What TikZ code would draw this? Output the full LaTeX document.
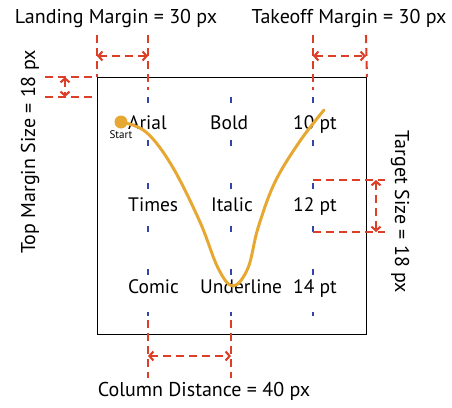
\documentclass[tikz,border=0pt]{standalone}
\usepackage{fontspec}
\setmainfont{PT Sans}
\usetikzlibrary{arrows.meta}
\definecolor{redd}{RGB}{220,62,40}
\definecolor{bluedash}{RGB}{50,70,170}
\definecolor{curvecol}{RGB}{230,168,50}
\begin{document}
\begin{tikzpicture}[x=1pt,y=-1pt,
 measure/.style={draw=redd,line width=2.1pt,dash pattern=on 8pt off 5pt},
 dimarrow/.style={measure,{Straight Barb[length=4pt,width=9pt]}-{Straight Barb[length=4pt,width=9pt]}},
 guide/.style={draw=bluedash,line width=1.1pt,dash pattern=on 6pt off 37pt},
 lbl/.style={font=\fontsize{19.5}{22}\selectfont,inner sep=0pt,anchor=base west},
 title/.style={font=\fontsize{20}{22}\selectfont,inner sep=0pt},
 gesture/.style={draw=curvecol,line width=3pt,line cap=round}]
\useasboundingbox (0,0) rectangle (452,407);
% frame
\node (box) [draw,line width=0.9pt,minimum width=269pt,minimum height=257pt,anchor=north west,inner sep=0pt] at (97,77) {};
% column guides
\foreach \n/\x in {a/148,b/231,c/313}{
  \coordinate (g\n top) at (\x,97);
  \coordinate (g\n bot) at (\x,316);
  \draw[guide] (g\n top) -- (g\n bot);
}
% labels inside
\node[lbl] (arial) at (128,129) {Arial};
\node[lbl] (bold) at (210,129) {Bold};
\node[lbl] (ten) at (293,129) {10 pt};
\node[lbl] (times) at (128,211) {Times};
\node[lbl] (italic) at (211,211) {Italic};
\node[lbl] (twelve) at (293,211) {12 pt};
\node[lbl] (comic) at (128,293) {Comic};
\node[lbl] (under) at (200,293) {Underline};
\node[lbl] (fourteen) at (293,293) {14 pt};
% gesture
\node (startdot) [circle,fill=curvecol,minimum size=13pt,inner sep=0pt] at (121,122) {};
\node[font=\fontsize{11}{12}\selectfont,inner sep=0pt] (startlbl) at (121,135) {Start};
\coordinate (curveend) at (324,110);
\draw[gesture] plot[smooth,tension=0.6] coordinates {(startdot.center) (146,132) (172,166) (200,222) (218,268) (233,286) (248,268) (258,228) (275,182) (300,141) (curveend)};
% landing margin
\coordinate (lmL) at (97,35);
\coordinate (lmR) at (148,35);
\coordinate (lmRb) at (148,90);
\draw[measure] (lmL) -- (box.north west);
\draw[measure] (lmR) -- (lmRb);
\coordinate (lmaL) at (97,56);
\coordinate (lmaR) at (148,56);
\draw[dimarrow] (lmaL) -- (lmaR);
\node[title] (lmtext) at (116,18) {Landing Margin = 30 px};
% takeoff margin
\coordinate (tmL) at (313,35);
\coordinate (tmLb) at (313,90);
\coordinate (tmR) at (366,35);
\draw[measure] (tmL) -- (tmLb);
\draw[measure] (tmR) -- (box.north east);
\coordinate (tmaL) at (313,56);
\coordinate (tmaR) at (366,56);
\draw[dimarrow] (tmaL) -- (tmaR);
\node[title] (tmtext) at (349,18) {Takeoff Margin = 30 px};
% top margin
\coordinate (toA) at (45,77);
\coordinate (toB) at (45,97);
\coordinate (toBr) at (97,97);
\draw[measure] (toA) -- (box.north west);
\draw[measure] (toB) -- (toBr);
\coordinate (toaT) at (65,77);
\coordinate (toaB) at (65,97);
\draw[dimarrow] (toaT) -- (toaB);
\node[title,rotate=90] (totext) at (30,152) {Top Margin Size = 18 px};
% target size
\coordinate (tsA) at (313,180);
\coordinate (tsAr) at (385,180);
\coordinate (tsB) at (313,232);
\coordinate (tsBr) at (385,232);
\draw[measure] (tsA) -- (tsAr);
\draw[measure] (tsB) -- (tsBr);
\coordinate (tsaT) at (376,180);
\coordinate (tsaB) at (376,232);
\draw[dimarrow] (tsaT) -- (tsaB);
\node[title,rotate=-90] (tstext) at (400,212) {Target Size = 18 px};
% column distance
\coordinate (cdL) at (148,320);
\coordinate (cdLb) at (148,378);
\coordinate (cdR) at (231,320);
\coordinate (cdRb) at (231,378);
\draw[measure] (cdL) -- (cdLb);
\draw[measure] (cdR) -- (cdRb);
\coordinate (cdaL) at (148,356);
\coordinate (cdaR) at (231,356);
\draw[dimarrow] (cdaL) -- (cdaR);
\node[title] (cdtext) at (204,391) {Column Distance = 40 px};
\end{tikzpicture}
\end{document}
